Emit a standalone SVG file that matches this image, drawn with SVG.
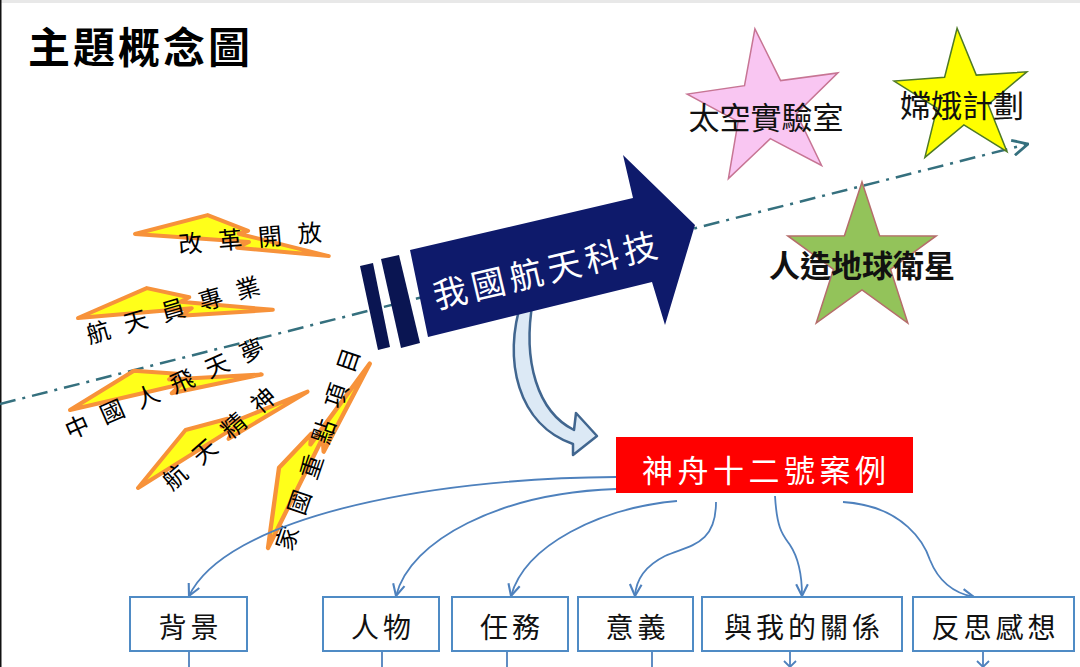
<svg xmlns="http://www.w3.org/2000/svg" width="1080" height="667" viewBox="0 0 1080 667">
  <style>
    .cjk { font-family: "Noto Sans CJK TC", "Noto Sans CJK SC", sans-serif; }
    .bolt { fill: #FFFF1A; stroke: #F7923A; stroke-width: 4; stroke-linejoin: round; }
    .bolttxt { font-size: 24px; fill: #000; }
    .box { fill: #FFFFFF; stroke: #4F8BC5; stroke-width: 2; }
    .boxtxt { font-size: 28px; fill: #111; text-anchor: middle; letter-spacing: 4px; }
    .conn { fill: none; stroke: #4E81BD; stroke-width: 1.8; }
    .startxt { font-size: 31px; fill: #111; text-anchor: middle; }
  </style>
  <defs>
    <marker id="vhead" markerUnits="userSpaceOnUse" markerWidth="14" markerHeight="14" viewBox="0 0 12 12" refX="11" refY="6" orient="auto">
      <path d="M1,1 L11,6 L1,11" fill="none" stroke="#4E81BD" stroke-width="1.8"/>
    </marker>
    <marker id="axhead" markerUnits="userSpaceOnUse" markerWidth="18" markerHeight="18" viewBox="0 0 14 14" refX="13" refY="7" orient="auto">
      <path d="M1,1 L13,7 L1,13" fill="none" stroke="#35707E" stroke-width="2.2"/>
    </marker>
    <path id="boltshape" d="M0,0 L70,-27 L112,-16 L103,-12 L195,0 L103,2 L114,-5 Z"/>
  </defs>

  <rect x="0" y="0" width="1080" height="667" fill="#FFFFFF"/>
  <rect x="0" y="0" width="1080" height="3" fill="#E8E8E8"/>
  <rect x="0" y="0" width="1.5" height="667" fill="#111111"/>

  <g id="title">
    <text class="cjk" x="28" y="63" font-size="42" font-weight="bold" letter-spacing="3" fill="#000">主題概念圖</text>
  </g>

  <g id="axis">
    <line x1="0" y1="404" x2="1028" y2="144" stroke="#35707E" stroke-width="2.5" stroke-dasharray="16 7 3 7" marker-end="url(#axhead)"/>
  </g>

  <g id="bolt-gaige">
    <use href="#boltshape" class="bolt" transform="translate(135,234) rotate(6.5)"/>
    <text class="cjk bolttxt" transform="translate(250,238) rotate(-5)" x="-72" y="9" letter-spacing="16">改革開放</text>
  </g>
  <g id="bolt-hangtianyuan">
    <use href="#boltshape" class="bolt" transform="translate(78,318) rotate(-2.4)"/>
    <text class="cjk bolttxt" transform="translate(173,310) rotate(-16.3)" x="-90" y="9" letter-spacing="15">航天員專業</text>
  </g>
  <g id="bolt-feitianmeng">
    <use href="#boltshape" class="bolt" transform="translate(70,410) rotate(-10.5)"/>
    <text class="cjk bolttxt" transform="translate(164.5,388.5) rotate(-23.7)" x="-107.5" y="9" letter-spacing="14.2">中國人飛天夢</text>
  </g>
  <g id="bolt-jingshen">
    <use href="#boltshape" class="bolt" transform="translate(138,488) rotate(-29.6)"/>
    <text class="cjk bolttxt" transform="translate(219,438.5) rotate(-41)" x="-70.5" y="9" letter-spacing="15">航天精神</text>
  </g>
  <g id="bolt-zhongdian">
    <use href="#boltshape" class="bolt" transform="translate(268,548) rotate(-61.1) scale(1.08)"/>
    <text class="cjk bolttxt" transform="translate(317.5,449) rotate(-71)" x="-106" y="9" letter-spacing="13.6">家國重點項目</text>
  </g>

  <g id="curved-arrow">
    <path d="M522,300 C502,360 518,425 573,444 L573,455 L597,436 L576,413 L574,430 C538,412 522,362 533,300 Z" fill="#DCE9F5" stroke="#41668F" stroke-width="2.5" stroke-linejoin="round"/>
  </g>

  <g id="main-arrow">
    <polygon points="360,266 373,263 390,347 378,350" fill="#0A1552"/>
    <polygon points="381,259 399,255 420,343 401,348" fill="#0A1552"/>
    <polygon points="410,250 633,198 623,155 695,225 665,325 652,282 428,337" fill="#0E1A6B"/>
    <text class="cjk" transform="translate(545,270) rotate(-13.2)" x="-114.5" y="13" font-size="34" letter-spacing="5" fill="#FFFFFF">我國航天科技</text>
  </g>

  <g id="star-lab">
    <polygon points="754.9,28.8 780.6,80.6 837.9,72.9 796.5,113.4 821.6,165.5 770.3,138.7 728.4,178.6 738.1,121.6 687.2,94.1 744.5,85.7" fill="#F9C6F2" stroke="#C77594" stroke-width="1.5"/>
    <text class="cjk startxt" x="766" y="129">太空實驗室</text>
  </g>
  <g id="star-change">
    <polygon points="957.1,28.2 976.3,75.1 1026.9,71.8 988.2,104.5 1007,151.6 963.9,124.9 924.9,157.4 937,108.1 894.1,81.1 944.6,77.3" fill="#FFFF00" stroke="#4E7A26" stroke-width="1.5"/>
    <text class="cjk startxt" x="962" y="117" font-size="30">嫦娥計劃</text>
  </g>
  <g id="star-satellite">
    <polygon points="862,182 879.6,235.7 936.2,235.9 890.5,269.3 907.8,323.1 862,290 816.2,323.1 833.5,269.3 787.8,235.9 844.4,235.7" fill="#93C35A" stroke="#B56D6B" stroke-width="1.5"/>
    <text class="cjk startxt" x="862" y="277" font-size="30" font-weight="bold">人造地球衛星</text>
  </g>

  <g id="connectors">
    <path class="conn" d="M616,477 C420,478 225,520 189,596" marker-end="url(#vhead)"/>
    <path class="conn" d="M616,489 C500,493 410,540 396,596" stroke-width="2.8" marker-end="url(#vhead)"/>
    <path class="conn" d="M677,501 C600,508 525,545 511,596" marker-end="url(#vhead)"/>
    <path class="conn" d="M716,502 C716,545 690,545 665,556 C645,566 636,580 635,596" marker-end="url(#vhead)"/>
    <path class="conn" d="M775,496 C777,530 783,535 790,545 C800,560 802,578 802,596" marker-end="url(#vhead)"/>
    <path class="conn" d="M843,502 C905,506 925,545 930,560 C940,585 958,594 974,597" marker-end="url(#vhead)"/>
    <line class="conn" x1="189" y1="651" x2="189" y2="667"/>
    <line class="conn" x1="382" y1="651" x2="382" y2="667"/>
    <line class="conn" x1="507" y1="651" x2="507" y2="667"/>
    <line class="conn" x1="652" y1="651" x2="652" y2="667"/>
    <line class="conn" x1="790" y1="651" x2="790" y2="667"/>
    <path class="conn" d="M784,661 L790,667 L796,661"/>
    <line class="conn" x1="983" y1="651" x2="983" y2="667"/>
    <path class="conn" d="M977,661 L983,667 L989,661"/>
  </g>

  <g id="node-case">
    <rect x="616" y="437" width="297" height="56" fill="#FF0000"/>
    <text class="cjk" x="642" y="482" font-size="31" letter-spacing="4.5" fill="#FFFFFF">神舟十二號案例</text>
  </g>

  <g id="node-beijing">
    <rect class="box" x="130" y="597" width="117" height="54"/>
    <text class="cjk boxtxt" x="190.5" y="638">背景</text>
  </g>
  <g id="node-renwu">
    <rect class="box" x="323" y="597" width="116" height="54"/>
    <text class="cjk boxtxt" x="383" y="638">人物</text>
  </g>
  <g id="node-renwu2">
    <rect class="box" x="452" y="597" width="116" height="54"/>
    <text class="cjk boxtxt" x="512" y="638">任務</text>
  </g>
  <g id="node-yiyi">
    <rect class="box" x="578" y="597" width="115" height="54"/>
    <text class="cjk boxtxt" x="637.5" y="638">意義</text>
  </g>
  <g id="node-guanxi">
    <rect class="box" x="702" y="597" width="200" height="54"/>
    <text class="cjk boxtxt" x="804" y="638">與我的關係</text>
  </g>
  <g id="node-fansi">
    <rect class="box" x="913" y="597" width="161" height="54"/>
    <text class="cjk boxtxt" x="995.5" y="638">反思感想</text>
  </g>
</svg>
